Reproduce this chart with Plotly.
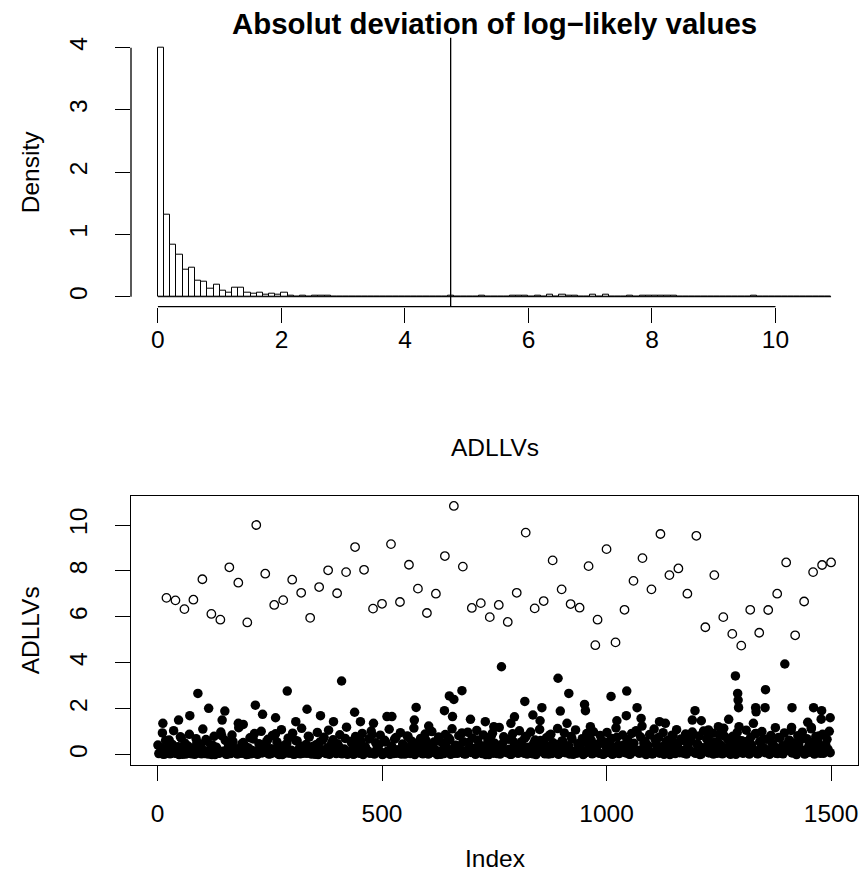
import numpy as np
import plotly.graph_objects as go

# ---------------- data ----------------
n_total = 1500
bin_width = 0.1
hist_max_break = 10.9
threshold = 4.74

# density of the first 21 bins (0.0-2.1)
hist_head_density = [4.0, 1.32, 0.83, 0.68, 0.43, 0.47, 0.26, 0.24, 0.13, 0.19,
                     0.10, 0.065, 0.15, 0.14, 0.07, 0.05, 0.06, 0.04, 0.05, 0.04, 0.06]

# open circles (values above the threshold)
outlier_index = [20, 40, 60, 80, 100, 120, 140, 160, 180, 200, 220, 240, 260, 280, 300,
                 320, 340, 360, 380, 400, 420, 440, 460, 480, 500, 520, 540, 560, 580, 600,
                 620, 640, 660, 680, 700, 720, 740, 760, 780, 800, 820, 840, 860, 880, 900,
                 920, 940, 960, 975, 980, 1000, 1020, 1040, 1060, 1080, 1100, 1120, 1140, 1160,
                 1180, 1200, 1220, 1240, 1260, 1280, 1300, 1320, 1340, 1360, 1380, 1400, 1420,
                 1440, 1460, 1480, 1500]
outlier_value = [6.83, 6.72, 6.34, 6.75, 7.64, 6.13, 5.88, 8.16, 7.49, 5.76, 10.0, 7.88, 6.52,
                 6.73, 7.62, 7.05, 5.96, 7.30, 8.03, 7.03, 7.95, 9.04, 8.05, 6.36, 6.57, 9.17,
                 6.65, 8.27, 7.23, 6.17, 7.01, 8.65, 10.83, 8.19, 6.39, 6.60, 5.99, 6.52, 5.78,
                 7.05, 9.67, 6.37, 6.69, 8.46, 7.20, 6.56, 6.40, 8.21, 4.77, 5.88, 8.95, 4.89,
                 6.31, 7.57, 8.56, 7.20, 9.61, 7.82, 8.11, 7.01, 9.53, 5.55, 7.82, 5.99, 5.26,
                 4.75, 6.31, 5.31, 6.30, 7.01, 8.37, 5.20, 6.67, 7.95, 8.26, 8.37]

# filled points that stand out above the dense band
high_index = [12, 47, 72, 90, 114, 144, 150, 180, 191, 218, 234, 263, 289, 308, 333, 363, 392,
              410, 439, 452, 481, 511, 522, 572, 576, 604, 639, 650, 657, 660, 678, 697, 730,
              749, 766, 787, 795, 818, 836, 852, 856, 892, 897, 912, 916, 951, 953, 964, 1010,
              1023, 1044, 1045, 1068, 1077, 1079, 1118, 1131, 1191, 1197, 1211, 1227, 1249,
              1272, 1287, 1292, 1293, 1294, 1295, 1327, 1332, 1333, 1353, 1354, 1397, 1412,
              1413, 1448, 1456, 1461, 1478, 1479, 1498]
high_value = [1.37, 1.51, 1.70, 2.67, 2.02, 1.51, 1.90, 1.37, 1.32, 2.16, 1.76, 1.61, 2.77,
              1.44, 1.98, 1.70, 1.44, 3.21, 1.85, 1.44, 1.37, 1.66, 1.66, 1.51, 2.06, 1.25,
              1.92, 2.56, 1.66, 2.41, 2.79, 1.54, 1.44, 1.22, 3.83, 1.37, 1.65, 2.32, 1.73,
              1.48, 2.05, 3.33, 1.90, 1.37, 2.67, 2.19, 1.92, 1.22, 2.54, 1.48, 1.70, 2.77,
              2.05, 1.58, 1.25, 1.44, 1.37, 1.51, 1.92, 1.48, 1.08, 1.22, 1.54, 3.43, 2.67,
              2.38, 2.05, 1.22, 1.37, 2.05, 1.87, 2.05, 2.83, 3.95, 1.19, 2.05, 1.41, 1.19,
              2.05, 1.55, 1.92, 1.61]

# dense band of filled points (estimated), one every 5th index starting at 3
bulk_start = 3
bulk_step = 5
bulk_value = [
    0.05, 0.31, 0.02, 0.62, 0.12, 0.04, 0.45, 0.08, 0.21, 0.01, 0.73, 0.15, 0.03, 0.38, 0.06, 0.27, 0.02, 0.54, 0.10, 0.04,
    0.19, 0.66, 0.03, 0.09, 0.41, 0.01, 0.25, 0.07, 0.83, 0.14, 0.02, 0.35, 0.05, 0.58, 0.11, 0.03, 0.22, 0.47, 0.06, 0.01,
    0.29, 0.04, 0.69, 0.13, 0.02, 0.40, 0.08, 0.17, 0.57, 0.03, 0.26, 0.09, 0.91, 0.05, 0.33, 0.01, 0.15, 0.49, 0.07, 0.20,
    0.02, 0.61, 0.11, 0.04, 0.36, 0.18, 0.06, 0.77, 0.03, 0.24, 0.43, 0.01, 0.12, 0.65, 0.08, 0.30, 0.02, 0.52, 0.16, 0.05,
    0.39, 0.07, 0.23, 0.71, 0.02, 0.13, 0.48, 0.04, 0.28, 0.09, 0.60, 0.01, 0.34, 0.18, 0.06, 0.87, 0.03, 0.21, 0.44, 0.10,
    0.04, 0.55, 0.14, 0.02, 0.32, 0.68, 0.07, 0.19, 0.03, 0.42, 0.11, 0.79, 0.05, 0.26, 0.01, 0.50, 0.16, 0.08, 0.37, 0.63,
    0.03, 0.22, 0.46, 0.09, 0.01, 0.59, 0.17, 0.05, 0.35, 0.74, 0.02, 0.13, 0.41, 0.06, 0.28, 0.95, 0.04, 0.19, 0.53, 0.10,
    0.27, 0.02, 0.64, 0.12, 0.05, 0.38, 0.21, 0.01, 0.81, 0.07, 0.31, 0.15, 0.03, 0.47, 0.66, 0.09, 0.24, 0.02, 0.56, 0.14,
    0.06, 0.43, 0.18, 0.72, 0.03, 0.29, 0.08, 0.51, 0.01, 0.20, 0.62, 0.11, 0.04, 0.36, 0.85, 0.05, 0.16, 0.45, 0.02, 0.25,
    0.58, 0.09, 0.33, 0.03, 0.70, 0.15, 0.06, 0.40, 0.23, 0.01, 0.54, 0.12, 0.88, 0.04, 0.30, 0.19, 0.07, 0.63, 0.02, 0.37,
    0.10, 0.49, 0.02, 0.26, 0.76, 0.05, 0.17, 0.42, 0.08, 0.60, 0.03, 0.32, 0.14, 0.98, 0.06, 0.22, 0.51, 0.01, 0.39, 0.11,
    0.04, 0.67, 0.20, 0.07, 0.35, 0.02, 0.57, 0.13, 0.28, 0.84, 0.05, 0.44, 0.09, 0.18, 0.61, 0.03, 0.25, 0.73, 0.12, 0.06,
    0.46, 0.01, 0.31, 0.15, 0.69, 0.08, 0.39, 0.03, 0.22, 0.55, 0.10, 0.04, 0.80, 0.27, 0.06, 0.48, 0.17, 0.02, 0.64, 0.34,
    0.07, 0.21, 0.58, 0.03, 0.43, 0.12, 0.93, 0.05, 0.29, 0.66, 0.09, 0.18, 0.02, 0.52, 0.36, 0.06, 0.75, 0.14, 0.04, 0.40,
    0.23, 0.62, 0.08, 0.33, 0.01, 0.47, 0.19, 0.71, 0.05, 0.27, 0.11, 0.56, 0.03, 0.38, 0.82, 0.13, 0.06, 0.44, 0.24, 0.09,
]
# second interleaved layer of the dense band (estimated), every 5th index starting at 1
bulk2_start = 1
bulk2_value = [
    0.42, 0.08, 0.95, 0.03, 0.27, 0.64, 0.12, 1.05, 0.06, 0.35, 0.78, 0.02, 0.51, 0.18, 0.89, 0.04, 0.30, 0.70, 0.09, 0.46,
    1.12, 0.05, 0.58, 0.21, 0.01, 0.80, 0.33, 0.07, 0.99, 0.15, 0.62, 0.03, 0.44, 0.86, 0.10, 0.26, 1.18, 0.06, 0.53, 0.37,
    0.02, 0.74, 0.19, 0.92, 0.05, 0.48, 1.02, 0.11, 0.32, 0.67, 0.04, 0.84, 0.23, 0.56, 0.01, 1.09, 0.39, 0.08, 0.72, 0.16,
    0.94, 0.03, 0.60, 0.28, 1.15, 0.07, 0.45, 0.81, 0.13, 0.36, 0.02, 0.97, 0.54, 0.20, 0.76, 0.05, 1.07, 0.31, 0.65, 0.09,
    0.48, 0.87, 0.04, 0.25, 1.20, 0.12, 0.58, 0.02, 0.79, 0.41, 0.06, 0.93, 0.34, 0.17, 0.69, 1.03, 0.08, 0.52, 0.27, 0.85,
    0.01, 0.63, 0.14, 1.11, 0.38, 0.05, 0.75, 0.22, 0.96, 0.47, 0.03, 0.82, 0.29, 0.59, 1.16, 0.10, 0.43, 0.71, 0.04, 0.90,
    0.35, 0.07, 1.01, 0.55, 0.18, 0.77, 0.02, 0.49, 0.88, 0.24, 0.66, 1.13, 0.06, 0.40, 0.83, 0.13, 0.57, 0.03, 0.98, 0.30,
    0.73, 0.09, 1.06, 0.44, 0.16, 0.86, 0.01, 0.61, 0.26, 0.94, 0.50, 0.05, 1.19, 0.37, 0.78, 0.11, 0.68, 0.02, 0.91, 0.42,
    0.20, 1.04, 0.57, 0.07, 0.81, 0.33, 0.99, 0.04, 0.64, 0.23, 1.10, 0.46, 0.12, 0.74, 0.03, 0.89, 0.52, 0.28, 1.14, 0.08,
    0.60, 0.95, 0.15, 0.39, 0.79, 0.02, 1.08, 0.48, 0.21, 0.70, 0.06, 0.92, 0.34, 0.63, 1.00, 0.10, 0.45, 0.84, 0.03, 0.56,
    0.97, 0.25, 0.71, 0.05, 1.17, 0.41, 0.14, 0.86, 0.31, 0.66, 0.02, 0.93, 0.50, 1.05, 0.18, 0.77, 0.09, 0.59, 0.36, 0.88,
    0.04, 1.12, 0.43, 0.75, 0.13, 0.96, 0.27, 0.62, 0.01, 0.85, 0.53, 1.09, 0.20, 0.69, 0.07, 0.90, 0.38, 0.58, 0.99, 0.11,
    0.47, 0.82, 0.03, 1.03, 0.32, 0.73, 0.17, 0.94, 0.55, 0.06, 0.87, 0.40, 1.15, 0.24, 0.65, 0.02, 0.80, 0.49, 0.97, 0.14,
    0.61, 0.08, 1.07, 0.35, 0.76, 0.22, 0.91, 0.04, 0.57, 1.01, 0.29, 0.68, 0.12, 0.84, 0.44, 1.18, 0.05, 0.72, 0.37, 0.95,
    0.19, 0.63, 1.06, 0.09, 0.51, 0.83, 0.26, 0.98, 0.03, 0.70, 0.42, 1.13, 0.16, 0.79, 0.54, 0.06, 0.89, 0.33, 0.67, 1.02,
]

hist_x_ticks = [0, 2, 4, 6, 8, 10]
hist_y_ticks = [0, 1, 2, 3, 4]
idx_x_ticks = [0, 500, 1000, 1500]
idx_y_ticks = [0, 2, 4, 6, 8, 10]

title_text = "Absolut deviation of log\u2212likely values"

# ---------------- derived ----------------
n_bins = int(round(hist_max_break / bin_width))
breaks = np.linspace(0, hist_max_break, n_bins + 1)
centers = (breaks[:-1] + breaks[1:]) / 2
tail_points = np.array([v for v in high_value if v > breaks[len(hist_head_density)]] + outlier_value)
tail_counts, _ = np.histogram(tail_points, bins=breaks[len(hist_head_density):])
density = np.concatenate([hist_head_density, tail_counts / (n_total * bin_width)])

bulk_index = list(range(bulk_start, bulk_start + bulk_step * len(bulk_value), bulk_step))
bulk2_index = list(range(bulk2_start, bulk2_start + bulk_step * len(bulk2_value), bulk_step))

W, H = 863, 889
FONT = "Liberation Sans, Arial, Helvetica, sans-serif"
BLACK = "#000000"
LW = 1.3


def xpad(lo, hi):
    d = (hi - lo) * 0.04
    return [lo - d, hi + d]


fig = go.Figure()

# histogram
fig.add_trace(go.Bar(x=centers, y=density, width=bin_width,
                     marker=dict(color="white", line=dict(color=BLACK, width=1)),
                     xaxis="x", yaxis="y", showlegend=False))
fig.add_trace(go.Scatter(x=[breaks[0], breaks[-1]], y=[0, 0], mode="lines",
                         line=dict(color=BLACK, width=1), xaxis="x", yaxis="y",
                         showlegend=False, hoverinfo="skip"))

# index plot
fill_marker = dict(symbol="circle", size=9.5, color=BLACK)
fig.add_trace(go.Scatter(x=bulk_index, y=bulk_value, mode="markers", marker=fill_marker,
                         xaxis="x2", yaxis="y2", showlegend=False))
fig.add_trace(go.Scatter(x=bulk2_index, y=bulk2_value, mode="markers", marker=fill_marker,
                         xaxis="x2", yaxis="y2", showlegend=False))
fig.add_trace(go.Scatter(x=high_index, y=high_value, mode="markers", marker=fill_marker,
                         xaxis="x2", yaxis="y2", showlegend=False))
fig.add_trace(go.Scatter(x=outlier_index, y=outlier_value, mode="markers",
                         marker=dict(symbol="circle-open", size=8.5, color=BLACK,
                                     line=dict(width=1.3, color=BLACK)),
                         xaxis="x2", yaxis="y2", showlegend=False))

xdom = [131 / W, 858 / W]
top_dom = [1 - 306.7 / H, 1 - 37.7 / H]
bot_dom = [1 - 764.7 / H, 1 - 496 / H]

all_vals = bulk_value + bulk2_value + high_value + outlier_value
tick_font = dict(family=FONT, size=24.5, color=BLACK)

common = dict(showgrid=False, zeroline=False, ticks="outside", ticklen=15,
              tickwidth=LW, tickcolor=BLACK, tickfont=tick_font, automargin=False)

fig.update_layout(
    width=W, height=H,
    margin=dict(l=0, r=0, t=0, b=0),
    paper_bgcolor="white", plot_bgcolor="white",
    bargap=0,
    font=dict(family=FONT, color=BLACK),
    xaxis=dict(domain=xdom, anchor="y", range=xpad(0, hist_max_break),
               tickvals=hist_x_ticks, showline=False, ticklabelstandoff=-4, **common),
    yaxis=dict(domain=top_dom, anchor="x", range=xpad(0, max(density)),
               tickvals=hist_y_ticks, tickangle=-90, showline=False,
               ticklabelstandoff=18, **common),
    xaxis2=dict(domain=xdom, anchor="y2", range=xpad(1, n_total),
                tickvals=idx_x_ticks, showline=True, mirror=True, linewidth=LW,
                linecolor=BLACK, ticklabelstandoff=12, **common),
    yaxis2=dict(domain=bot_dom, anchor="x2", range=xpad(0, max(all_vals)),
                tickvals=idx_y_ticks, tickangle=-90, showline=True, mirror=True,
                linewidth=LW, linecolor=BLACK, ticklabelstandoff=18, **common),
)

# histogram axis lines spanning only the tick range (R style)
fig.add_shape(type="line", xref="x", yref="y domain", x0=hist_x_ticks[0], x1=hist_x_ticks[-1],
              y0=0, y1=0, line=dict(color=BLACK, width=LW))
fig.add_shape(type="line", xref="x domain", yref="y", x0=0, x1=0, y0=hist_y_ticks[0],
              y1=hist_y_ticks[-1], line=dict(color=BLACK, width=LW))
# threshold line
fig.add_shape(type="line", xref="x", yref="y domain", x0=threshold, x1=threshold,
              y0=0, y1=1, line=dict(color=BLACK, width=LW))

lab_font = dict(family=FONT, size=24.5, color=BLACK)
fig.add_annotation(text="<b>" + title_text + "</b>", xref="paper", yref="paper",
                   x=(xdom[0] + xdom[1]) / 2, y=1 - 24 / H, showarrow=False,
                   xanchor="center", yanchor="middle",
                   font=dict(family=FONT, size=29.4, color=BLACK))
fig.add_annotation(text="ADLLVs", xref="paper", yref="paper", x=(xdom[0] + xdom[1]) / 2,
                   y=1 - 447 / H, showarrow=False, xanchor="center", yanchor="middle",
                   font=lab_font)
fig.add_annotation(text="Density", xref="paper", yref="paper", x=30 / W,
                   y=(top_dom[0] + top_dom[1]) / 2, showarrow=False, textangle=-90,
                   xanchor="center", yanchor="middle", font=lab_font)
fig.add_annotation(text="Index", xref="paper", yref="paper", x=(xdom[0] + xdom[1]) / 2,
                   y=1 - 858 / H, showarrow=False, xanchor="center", yanchor="middle",
                   font=lab_font)
fig.add_annotation(text="ADLLVs", xref="paper", yref="paper", x=30 / W,
                   y=(bot_dom[0] + bot_dom[1]) / 2, showarrow=False, textangle=-90,
                   xanchor="center", yanchor="middle", font=lab_font)

fig.write_html("out.html", config={"displayModeBar": False},
               post_script="document.body.style.margin='0';document.body.style.overflow='hidden';")
